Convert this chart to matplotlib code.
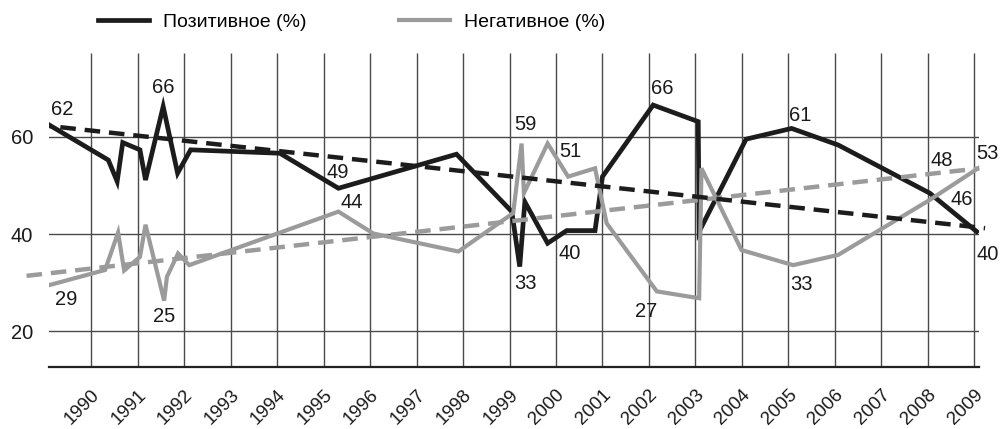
import matplotlib
matplotlib.use("Agg")
import matplotlib.pyplot as plt
import numpy as np

plt.rcParams['font.family'] = ['Liberation Sans', 'DejaVu Sans']

# --- data (x = fractional year, y = percent) ---
pos_years = [1990.10, 1991.37, 1991.56, 1991.68, 1992.05, 1992.17, 1992.55, 1992.86,
             1993.14, 1995.06, 1996.32, 1998.86, 2000.05, 2000.22, 2000.33, 2000.82,
             2001.23, 2001.84, 2002.00, 2003.09, 2004.06, 2004.08, 2005.09, 2006.07,
             2007.07, 2009.04, 2010.05]
pos_vals = [62.4, 55.2, 50.8, 58.8, 57.3, 51.1, 66.2, 52.5,
            57.3, 56.6, 49.4, 56.4, 44.6, 33.3, 46.6, 38.1,
            40.7, 40.7, 51.8, 66.5, 63.1, 40.5, 59.5, 61.7,
            58.3, 48.4, 40.5]

neg_years = [1990.10, 1991.30, 1991.58, 1991.71, 1992.05, 1992.17, 1992.57, 1992.63,
             1992.87, 1993.11, 1996.32, 1997.07, 1998.90, 2000.08, 2000.26, 2000.31,
             2000.82, 2001.26, 2001.84, 2002.09, 2003.17, 2004.08, 2004.13, 2004.99,
             2006.10, 2007.07, 2009.04, 2010.08]
neg_vals = [29.5, 32.6, 40.3, 32.5, 35.3, 41.9, 26.3, 31.2,
            36.0, 33.6, 44.6, 40.1, 36.4, 44.3, 58.6, 48.4,
            58.6, 51.8, 53.5, 42.2, 28.2, 26.8, 53.5, 36.7,
            33.6, 35.7, 47.0, 53.5]

# linear trends (end points)
pos_trend_years = [1990.10, 2010.23]
pos_trend_vals = [62.2, 41.2]
neg_trend_years = [1989.61, 2010.11]
neg_trend_vals = [31.4, 53.5]

year_labels = list(range(1990, 2010))
y_ticks = [20, 40, 60]

# value labels: (point index, text)
pos_labels = [(0, "62"), (6, "66"), (10, "49"), (13, "33"), (16, "40"),
              (19, "66"), (23, "61"), (25, "48"), (26, "40")]
neg_labels = [(0, "29"), (6, "25"), (10, "44"), (14, "59"), (16, "51"),
              (20, "27"), (24, "33"), (26, "46"), (27, "53")]
# text offsets in pixels from the point (layout only)
pos_offsets = [(13, 16), (0, 19), (-1, 16), (6, -17), (3, -23),
               (9, 17), (9, 13), (12, 33), (11, -23)]
neg_offsets = [(17, -14), (0, -16), (13, 9), (4, 19), (23, -8),
               (-11, -20), (8, -19), (32, 0), (9, 15)]

BLACK = '#1c1c1c'
GRAY = '#9b9b9b'
GRID = '#4a4a4a'

fig = plt.figure(figsize=(10, 4.29), dpi=100)
ax = fig.add_axes([0.0493, 0.1445, 0.9297, 0.7327])
ax.set_xlim(1990.1, 2010.1)
ax.set_ylim(12.66, 77.27)

# grid
for v in y_ticks:
    ax.axhline(v, color=GRID, lw=1.0, zorder=1)
ax.vlines(np.array(year_labels) + 1, 12.66, 77.27, color=GRID, lw=1.0, zorder=1)

l_pos, = ax.plot(pos_years, pos_vals, color=BLACK, lw=3.4,
                 solid_joinstyle='miter', zorder=3)
l_neg, = ax.plot(neg_years, neg_vals, color=GRAY, lw=3.0,
                 solid_joinstyle='miter', zorder=4)
ax.plot(neg_trend_years, neg_trend_vals, color=GRAY, lw=3.2,
        linestyle=(0, (3.5, 2)), clip_on=False, zorder=5)
ax.plot(pos_trend_years, pos_trend_vals, color=BLACK, lw=3.2,
        linestyle=(3, (3.5, 2)), clip_on=False, zorder=6)

for (i, txt), (dx, dy) in zip(pos_labels, pos_offsets):
    ax.annotate(txt, (pos_years[i], pos_vals[i]), xytext=(dx, dy),
                textcoords='offset pixels', ha='center', va='center',
                fontsize=14.5, color='#1a1a1a', annotation_clip=False, zorder=7)
for (i, txt), (dx, dy) in zip(neg_labels, neg_offsets):
    ax.annotate(txt, (neg_years[i], neg_vals[i]), xytext=(dx, dy),
                textcoords='offset pixels', ha='center', va='center',
                fontsize=14.5, color='#1a1a1a', annotation_clip=False, zorder=7)

# axes styling
for s in ['top', 'right', 'left']:
    ax.spines[s].set_visible(False)
ax.spines['bottom'].set_linewidth(1.6)
ax.spines['bottom'].set_color('#222222')
ax.set_yticks(y_ticks)
ax.set_yticklabels([str(v) for v in y_ticks], fontsize=14.5, color='#1a1a1a')
ax.tick_params(axis='y', length=0, pad=11.5)
ax.set_xticks([])
for yr in year_labels:
    ax.annotate(str(yr), (yr + 1, 0), xycoords=('data', 'axes fraction'),
                xytext=(6, -25), textcoords='offset pixels', rotation=45,
                rotation_mode='anchor', ha='right', va='center',
                fontsize=13.5, color='#1a1a1a', annotation_clip=False)

fig.legend([l_pos, l_neg], ['Позитивное (%)', 'Негативное (%)'],
           loc='center left', bbox_to_anchor=(0.098, 1 - 22 / 429), ncol=2,
           frameon=False, fontsize=14, handlelength=2.6, handletextpad=0.72,
           columnspacing=4.8, borderpad=0, borderaxespad=0)

fig.savefig('out.png', dpi=100)
